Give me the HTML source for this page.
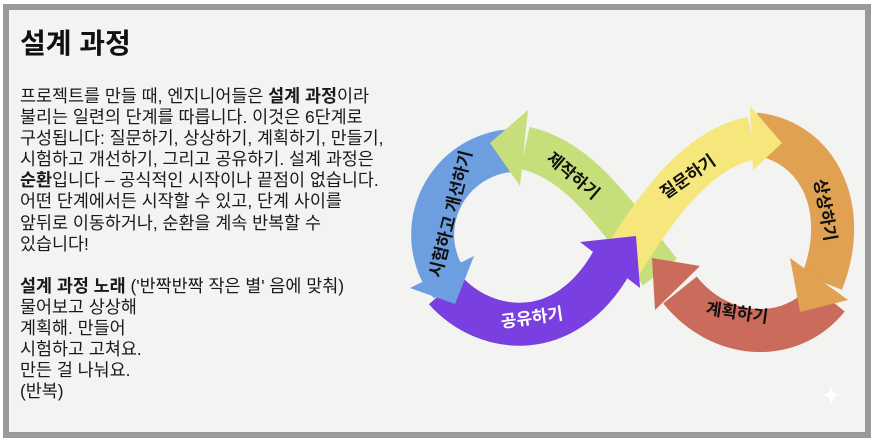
<!DOCTYPE html>
<html><head><meta charset="utf-8"><style>
body{margin:0;width:874px;height:442px;background:#fff;overflow:hidden;position:relative;font-family:"Liberation Sans","Noto Sans CJK KR",sans-serif;}
.frame{position:absolute;left:3px;top:4px;width:856px;height:422px;border:6px solid #9a9a9a;background:#f3f3f1;}
h1{position:absolute;left:20px;top:22px;margin:0;font-size:28px;font-weight:bold;color:#111;font-family:"Liberation Sans","Noto Sans CJK KR",sans-serif;}
.txt{position:absolute;left:20px;top:86px;font-size:17.4px;line-height:21.1px;color:#1a1a1a;white-space:nowrap;}
svg{position:absolute;left:0;top:0;}
</style></head><body>
<div class="frame"></div>
<h1>설계 과정</h1>
<div class="txt">프로젝트를 만들 때, 엔지니어들은 <b>설계 과정</b>이라<br>불리는 일련의 단계를 따릅니다. 이것은 6단계로<br>구성됩니다: 질문하기, 상상하기, 계획하기, 만들기,<br>시험하고 개선하기, 그리고 공유하기. 설계 과정은<br><b>순환</b>입니다 – 공식적인 시작이나 끝점이 없습니다.<br>어떤 단계에서든 시작할 수 있고, 단계 사이를<br>앞뒤로 이동하거나, 순환을 계속 반복할 수<br>있습니다!<br><br><b>설계 과정 노래</b> ('반짝반짝 작은 별' 음에 맞춰)<br>물어보고 상상해<br>계획해. 만들어<br>시험하고 고쳐요.<br>만든 걸 나눠요.<br>(반복)</div>
<svg width="874" height="442" viewBox="0 0 874 442" font-family="Liberation Sans, Noto Sans CJK KR, sans-serif" font-weight="bold" font-size="17">
<g fill="none" stroke-width="43">
<path d="M660 272 C615 215 580 160 525 148" stroke="#c6df7a"/>
<path d="M620 265 C660 200 700 148 752 138" stroke="#f5e77c"/>
<path d="M520 150 C462 150 425 200 434 250 C437 264 441 274 450 284" stroke="#6d9fe0"/>
<path d="M445 290 C485 335 565 345 612 262" stroke="#7a3fe0"/>
<path d="M755 134 C815 140 852 205 822 282" stroke="#e0a152"/>
<path d="M828 298 C790 345 720 340 680 290" stroke="#cb6b5b"/>
</g>
<polygon points="490,143 528,110 520,186" fill="#c6df7a"/>
<polygon points="782,143 750,106 753,170" fill="#f5e77c"/>
<polygon points="410,288 474,256 455,304" fill="#6d9fe0"/>
<polygon points="636,236 580,242 640,288" fill="#7a3fe0"/>
<polygon points="800,312 790,258 848,300" fill="#e0a152"/>
<polygon points="652,258 700,266 655,310" fill="#cb6b5b"/>
<g fill="#111" text-anchor="middle" dominant-baseline="central">
<text transform="translate(451,214) rotate(-76)">시험하고 개선하기</text>
<text transform="translate(573,176) rotate(40)">제작하기</text>
<text transform="translate(688,177) rotate(-35)">질문하기</text>
<text transform="translate(825,210) rotate(80)">상상하기</text>
<text transform="translate(737,313) rotate(8)">계획하기</text>
<text transform="translate(532,318) rotate(-8)" fill="#fff">공유하기</text>
</g>
<text x="822" y="403" fill="#fff" font-size="22">✦</text>
</svg>
</body></html>
